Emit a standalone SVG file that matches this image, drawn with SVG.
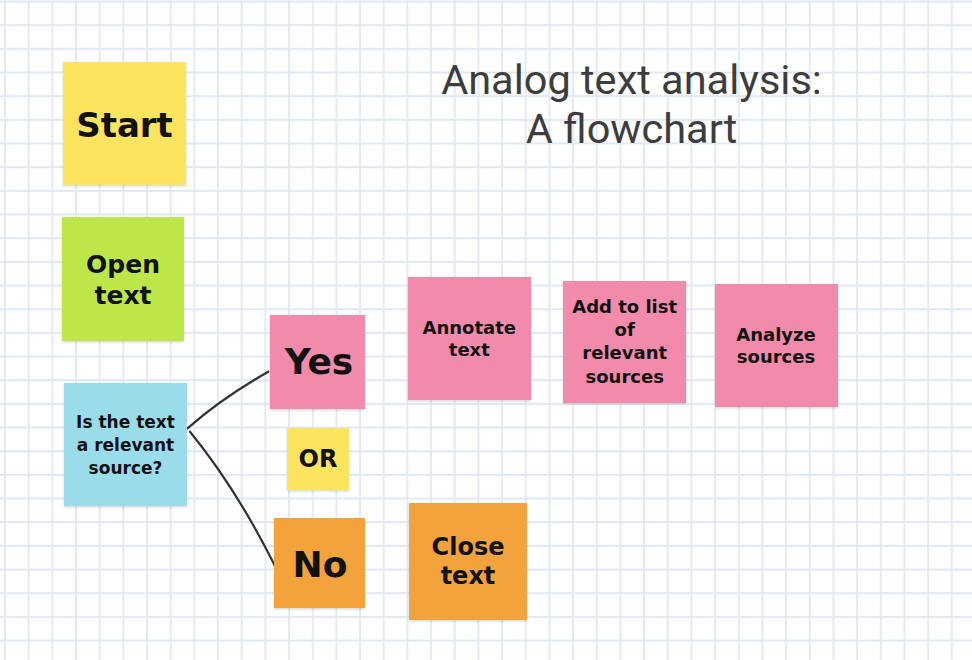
<svg xmlns="http://www.w3.org/2000/svg" width="972" height="660" viewBox="0 0 972 660">
<defs>
<pattern id="grid" x="4" y="0.5" width="23.67" height="23.67" patternUnits="userSpaceOnUse">
<path d="M1 0V23.67M0 1H23.67" stroke="#e1e8f5" stroke-width="1.8" fill="none"/>
</pattern>
<filter id="sh" x="-10%" y="-10%" width="120%" height="125%">
<feDropShadow dx="0" dy="1.5" stdDeviation="1" flood-color="#000" flood-opacity="0.15"/>
</filter>
</defs>
<style>
.n{filter:url(#sh);}
.y{fill:#fce45f;}
.g{fill:#bde64a;}
.b{fill:#9bdceb;}
.p{fill:#f18aab;}
.o{fill:#f3a33a;}
.t{font-family:"DejaVu Sans","Liberation Sans",sans-serif;font-weight:bold;fill:#111;text-anchor:middle;}
.ttl{font-family:Roboto,"Liberation Sans",sans-serif;font-size:41.5px;fill:#3d3d3d;text-anchor:middle;}
.c{fill:none;stroke:#333;stroke-width:2.2;stroke-linecap:round;stroke-linejoin:round;}
</style>
<rect width="972" height="660" fill="#fff"/>
<rect width="972" height="660" fill="url(#grid)"/>

<g id="title">
<text class="ttl" x="631.5" y="94">Analog text analysis:</text>
<text class="ttl" x="631.5" y="142.7">A flowchart</text>
</g>

<g id="connectors">
<path class="c" d="M187.5 428.3 Q222 398 268.3 371.7"/>
<path class="c" d="M190 431.7 Q236 488 275 566"/>
</g>

<g id="start">
<rect class="n y" x="63" y="62" width="123" height="123"/>
<text class="t" x="124.5" y="137" font-size="34">Start</text>
</g>

<g id="open-text">
<rect class="n g" x="62" y="217" width="122" height="124"/>
<text class="t" x="123" y="272.7" font-size="25">Open</text>
<text class="t" x="123" y="304" font-size="25">text</text>
</g>

<g id="question">
<rect class="n b" x="64" y="383" width="123" height="123"/>
<text class="t" x="125.5" y="427.7" font-size="17">Is the text</text>
<text class="t" x="125.5" y="450.7" font-size="17">a relevant</text>
<text class="t" x="125.5" y="474" font-size="17">source?</text>
</g>

<g id="yes">
<rect class="n p" x="270" y="315" width="95" height="94"/>
<text class="t" x="319" y="374" font-size="36">Yes</text>
</g>

<g id="or">
<rect class="n y" x="287" y="428" width="62" height="62"/>
<text class="t" x="318" y="467.3" font-size="24">OR</text>
</g>

<g id="no">
<rect class="n o" x="274" y="518" width="91" height="90"/>
<text class="t" x="320" y="576.7" font-size="36">No</text>
</g>

<g id="annotate">
<rect class="n p" x="408" y="277" width="123" height="123"/>
<text class="t" x="469.3" y="334" font-size="18">Annotate</text>
<text class="t" x="469.3" y="356" font-size="18">text</text>
</g>

<g id="add-to-list">
<rect class="n p" x="563" y="281" width="123" height="122"/>
<text class="t" x="624.7" y="313.3" font-size="18">Add to list</text>
<text class="t" x="624.7" y="336" font-size="18">of</text>
<text class="t" x="624.7" y="359.3" font-size="18">relevant</text>
<text class="t" x="624.7" y="382.5" font-size="18">sources</text>
</g>

<g id="analyze">
<rect class="n p" x="715" y="284" width="123" height="123"/>
<text class="t" x="776" y="340.7" font-size="18">Analyze</text>
<text class="t" x="776" y="362.7" font-size="18">sources</text>
</g>

<g id="close-text">
<rect class="n o" x="409" y="503" width="118" height="117"/>
<text class="t" x="468" y="555" font-size="24">Close</text>
<text class="t" x="468" y="584.3" font-size="24">text</text>
</g>
</svg>
